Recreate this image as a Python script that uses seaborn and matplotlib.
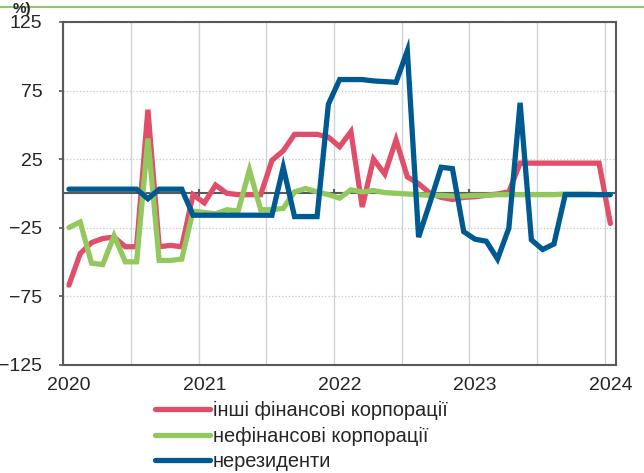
import numpy as np
import pandas as pd
import seaborn as sns
import matplotlib.pyplot as plt
from matplotlib.lines import Line2D

# monthly values, Jan 2020 .. Jan 2024 (49 points)
months = pd.date_range("2020-01-01", "2024-01-01", freq="MS")
year_labels = ["2020", "2021", "2022", "2023", "2024"]

other_fin = [-67, -44, -36, -33, -32, -39, -39, 61, -39, -38, -39, -1,
             -7, 6, 0, -1, -1, -1, 24, 31, 43, 43, 43, 41,
             34, 45, -10, 25, 14, 39, 12, 7, 0, -3, -4.5, -3,
             -2.5, -1.5, -0.5, 1, 22, 22, 22, 22, 22, 22, 22, 22,
             -22]
non_fin = [-25, -21, -51, -52, -31, -50, -50, 40, -49, -49, -48, -13,
           -14, -15, -12, -13, 17, -12, -12, -11, 1, 3.5, 1, -1,
           -3.5, 2.5, 1, 2, 0.5, 0, -0.5, -1, -1.5, -1.5, -2, -2,
           -1.5, -1.5, -1, -1, -1, -1, -1, -1, -0.5, -0.5, -0.5, -1,
           -1]
non_res = [3, 3, 3, 3, 3, 3, 3, -4, 3, 3, 3, -16,
           -16, -16, -16, -16, -16, -16, -16, 19, -17, -17, -17, 65,
           83, 83, 83, 82, 81.5, 81, 104, -32, -7, 19, 18, -28,
           -33.5, -35, -48, -25.5, 66, -34, -41, -37, -1, -1, -1, -1,
           -1]

names = ["інші фінансові корпорації", "нефінансові корпорації", "нерезиденти"]
colors = ["#E04E69", "#92C85E", "#005A92"]

df = pd.DataFrame({"pos": np.arange(len(months)) + 0.5,
                   names[0]: other_fin, names[1]: non_fin, names[2]: non_res})

sns.set_style("white")
plt.rcParams["font.family"] = ["Liberation Sans", "DejaVu Sans"]

fig = plt.figure(figsize=(6.44, 4.73), dpi=100)
ax = fig.add_axes([0.0983, 0.2292, 0.8582, 0.7243])

for name, col in zip(names, colors):
    sns.lineplot(data=df, x="pos", y=name, color=col, linewidth=3.8,
                 label=name, ax=ax, zorder=3, solid_capstyle="round",
                 solid_joinstyle="miter")

ax.set_xlim(0, 49)
ax.set_ylim(-125, 125)
ax.set_yticks(np.arange(-125, 126, 50))
ax.set_xticks(np.arange(0, 49, 12) + 0.5)
ax.set_xticklabels(year_labels)
ax.set_xticks(np.arange(0, 49, 6), minor=True)
ax.set_xlabel("")
ax.set_ylabel("")

ax.grid(which="minor", axis="x", color="#cdd4d7", linewidth=1.0)
ax.grid(which="major", axis="y", color="#c8c8c8", linewidth=0.9, linestyle=":")
ax.grid(which="major", axis="x", visible=False)

ax.axhline(0, color="#595959", linewidth=1.5, zorder=2)
ax.vlines([12, 24, 36], -3, 3, color="#595959", linewidth=1.5, zorder=2)

for sp in ax.spines.values():
    sp.set_color("#595959")
    sp.set_linewidth(1.5)

ax.tick_params(axis="y", which="major", length=3, width=1.2, color="#595959",
               labelsize=14, pad=12, left=True)
ax.tick_params(axis="x", which="both", length=0, labelsize=14, pad=9)

ax.legend(loc="upper left", bbox_to_anchor=(155 / 644, 1 - 401 / 473),
          bbox_transform=fig.transFigure, frameon=False, fontsize=14.4,
          handlelength=2.75, handletextpad=0.15, labelspacing=0.33,
          borderaxespad=0, borderpad=0)

fig.text(13 / 644, 1 - 13 / 473, "%)", fontsize=11, fontweight="bold",
         va="baseline", ha="left")
fig.add_artist(Line2D([0, 1], [1 - 7 / 473, 1 - 7 / 473],
                      transform=fig.transFigure, color="#92C85E", linewidth=1.5))

fig.savefig("out.png", dpi=100)
